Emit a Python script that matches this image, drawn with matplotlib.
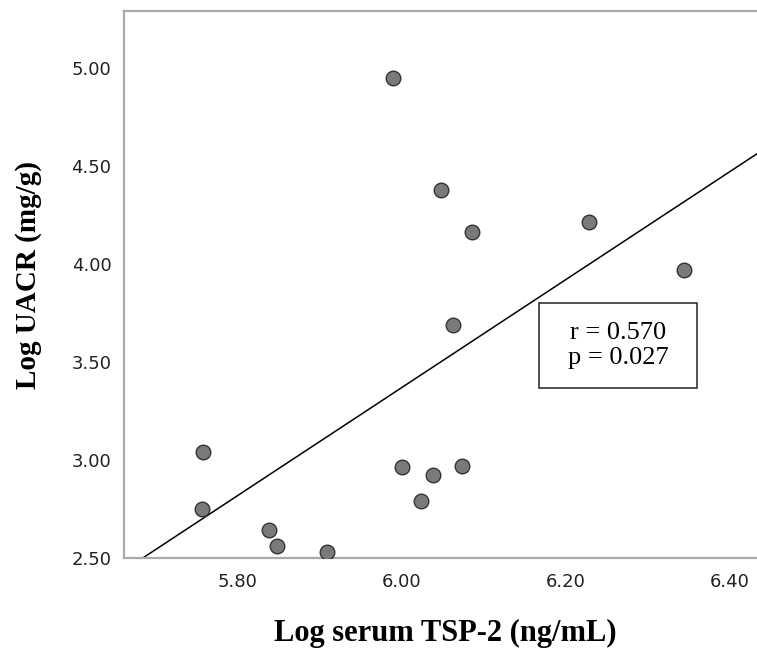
import numpy as np
import matplotlib
matplotlib.use('Agg')
import matplotlib.pyplot as plt
from matplotlib.patches import Rectangle

# values
tsp2 = [5.989, 6.048, 6.085, 6.228, 6.344, 6.062, 5.757, 5.756,
        5.838, 5.847, 5.908, 6.000, 6.038, 6.023, 6.073]
uacr = [4.949, 4.379, 4.165, 4.216, 3.971, 3.686, 3.040, 2.749,
        2.644, 2.561, 2.530, 2.963, 2.923, 2.790, 2.968]

# fit line as drawn in the picture
fit_slope = 2.753
fit_intercept = -13.148
r_text = 'r = 0.570\np = 0.027'

xticks = [5.80, 6.00, 6.20, 6.40]
yticks = [2.50, 3.00, 3.50, 4.00, 4.50, 5.00]

fig = plt.figure(figsize=(7.57, 6.51), dpi=100)
ax = fig.add_axes([0.1638, 0.1429, 0.8362, 0.8401])

xlim = (5.661, 6.433)
ylim = (2.50, 5.29)

xs = np.array(xlim)
ax.plot(xs, fit_slope * xs + fit_intercept, color='black', lw=1.1, zorder=2)
ax.scatter(tsp2, uacr, s=110, color='#7a7a7a', edgecolor='#333333',
           linewidth=1.0, zorder=3)

ax.set_xlim(*xlim)
ax.set_ylim(*ylim)
ax.set_xticks(xticks)
ax.set_yticks(yticks)
ax.set_xticklabels(['{:.2f}'.format(v) for v in xticks])
ax.set_yticklabels(['{:.2f}'.format(v) for v in yticks])
ax.tick_params(length=0, labelsize=13, colors='#222222', pad=9)
ax.tick_params(axis='x', pad=11)

for side in ['left', 'bottom', 'top']:
    ax.spines[side].set_color('#aaaaaa')
    ax.spines[side].set_linewidth(1.6)
ax.spines['right'].set_visible(False)

serif = ['Liberation Serif', 'DejaVu Serif']
fig.text(445.5 / 757, 1 - 633 / 651, 'Log serum TSP-2 (ng/mL)', family=serif,
         fontweight='bold', fontsize=22, ha='center', va='center')
fig.text(29 / 757, 1 - 275 / 651, 'Log UACR (mg/g)', family=serif,
         fontweight='bold', fontsize=21, ha='center', va='center',
         rotation=90)

# stats box
ax.add_patch(Rectangle((0.6556, 0.3108), 0.2496, 0.1554, transform=ax.transAxes,
                       facecolor='white', edgecolor='#222222', lw=1.1, zorder=4))
ax.text(0.7805, 0.3885, r_text, transform=ax.transAxes, family=serif,
        fontsize=19, ha='center', va='center', linespacing=1.2, zorder=5)

fig.savefig('out.png', dpi=100)
